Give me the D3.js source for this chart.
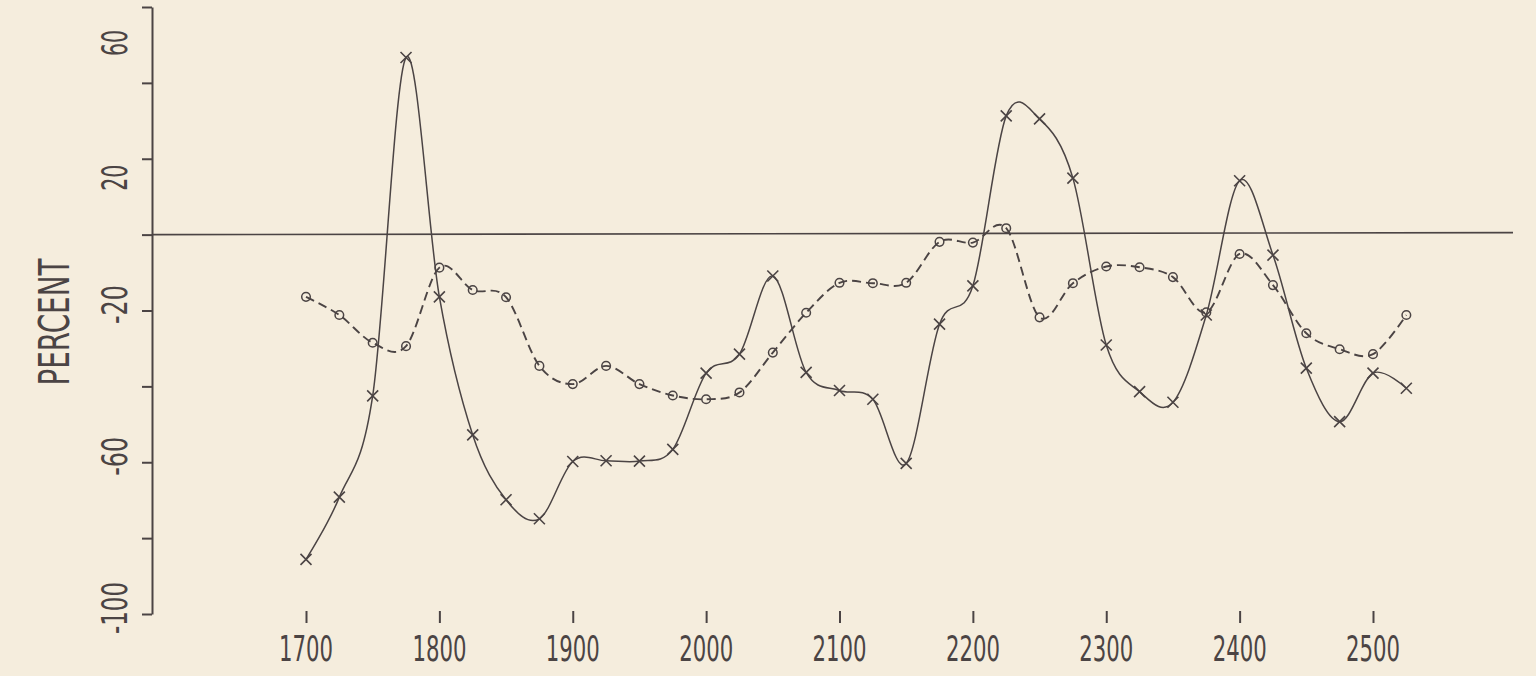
<!DOCTYPE html>
<html>
<head>
<meta charset="utf-8">
<script src="https://cdn.jsdelivr.net/npm/d3@7"></script>
<style>
html,body{margin:0;padding:0;background:#f5eddd;}
svg{display:block;}
</style>
</head>
<body>
<svg id="chart" width="1536" height="676"></svg>
<script>
// ---------- data ----------
const years = [1700,1725,1750,1775,1800,1825,1850,1875,1900,1925,1950,1975,
               2000,2025,2050,2075,2100,2125,2150,2175,2200,2225,2250,2275,
               2300,2325,2350,2375,2400,2425,2450,2475,2500,2525];
const seriesCross = [-85.6,-69.2,-42.5,46.7,-16.4,-52.8,-69.9,-74.9,-59.8,-59.6,-59.7,-56.6,
                     -36.5,-31.5,-10.9,-36.3,-41.1,-43.4,-60.3,-23.6,-13.5,31.3,30.5,14.9,
                     -29.1,-41.4,-44.2,-21.2,14.2,-5.4,-35.2,-49.3,-36.5,-40.5];
const seriesCircle = [-16.4,-21.2,-28.5,-29.4,-8.7,-14.6,-16.5,-34.6,-39.4,-34.6,-39.4,-42.4,
                      -43.4,-41.6,-31.1,-20.6,-12.7,-12.8,-12.7,-1.9,-2.1,1.7,-21.8,-12.8,
                      -8.4,-8.6,-11.2,-20.5,-5.1,-13.3,-26.0,-30.2,-31.5,-21.2];
const xTickValues = [1700,1800,1900,2000,2100,2200,2300,2400,2500];
const yTickMarks = [-100,-80,-60,-40,-20,0,20,40,60];
const yTickLabels = [-100,-60,-20,20,60];
const yTitle = "PERCENT";

// ---------- setup ----------
const ink = "#4b4444";
const svg = d3.select("#chart");
svg.append("rect").attr("width",1536).attr("height",676).attr("fill","#f5eddd");

const x = d3.scaleLinear().domain([1700,2500]).range([306,1373]);
const y = d3.scaleLinear().domain([-100,60]).range([614,7]);
const axisX = 152;
const font = "'Liberation Sans Narrow','DejaVu Sans Condensed',Arial,sans-serif";

// y axis
const gy = svg.append("g").attr("transform",`translate(${axisX},0)`)
  .call(d3.axisLeft(y).tickValues(yTickMarks).tickSize(10).tickSizeOuter(0).tickFormat(""));
gy.select(".domain").attr("stroke",ink).attr("stroke-width",2);
gy.selectAll(".tick line").attr("stroke",ink).attr("stroke-width",2);

// y tick labels (rotated)
svg.append("g").selectAll("text").data(yTickLabels).join("text")
  .attr("transform",d=>`translate(114,${y(d) + (d>0 ? (d>40?36:19) : -6)}) rotate(-90)`)
  .attr("text-anchor","middle")
  .attr("dy","0.36em")
  .attr("font-family",font)
  .attr("font-size",36)
  .attr("fill",ink)
  .attr("textLength",d=>String(d).length*13)
  .attr("lengthAdjust","spacingAndGlyphs")
  .text(d=>d);

// y title
svg.append("text")
  .attr("transform",`translate(54,322) rotate(-90)`)
  .attr("text-anchor","middle")
  .attr("dy","0.36em")
  .attr("font-family",font)
  .attr("font-size",42)
  .attr("fill",ink)
  .attr("textLength",127)
  .attr("lengthAdjust","spacingAndGlyphs")
  .text(yTitle);

// zero line
svg.append("line")
  .attr("x1",axisX).attr("x2",1513)
  .attr("y1",y(0)).attr("y2",y(0) - 2)
  .attr("stroke",ink).attr("stroke-width",1.6);

// x axis ticks and labels
const gx = svg.append("g").attr("transform","translate(0,611)")
  .call(d3.axisBottom(x).tickValues(xTickValues).tickSize(12).tickSizeOuter(0).tickFormat(""));
gx.select(".domain").remove();
gx.selectAll(".tick line").attr("stroke",ink).attr("stroke-width",2);

svg.append("g").selectAll("text").data(xTickValues).join("text")
  .attr("x",d=>x(d)).attr("y",661)
  .attr("text-anchor","middle")
  .attr("font-family",font)
  .attr("font-size",36)
  .attr("fill",ink)
  .attr("textLength",54)
  .attr("lengthAdjust","spacingAndGlyphs")
  .text(d=>d);

// ---------- series ----------
const crossData = years.map((yr,i)=>[yr,seriesCross[i]]);
const circleData = years.map((yr,i)=>[yr,seriesCircle[i]]);

const line = d3.line().x(d=>x(d[0])).y(d=>y(d[1])).curve(d3.curveCatmullRom.alpha(0));

svg.append("path").datum(circleData)
  .attr("d",line).attr("fill","none")
  .attr("stroke",ink).attr("stroke-width",1.9)
  .attr("stroke-dasharray","9,5");

svg.append("path").datum(crossData)
  .attr("d",line).attr("fill","none")
  .attr("stroke",ink).attr("stroke-width",1.5);

// circle markers
svg.append("g").selectAll("circle").data(circleData).join("circle")
  .attr("cx",d=>x(d[0])).attr("cy",d=>y(d[1])).attr("r",4.3)
  .attr("fill","none").attr("stroke",ink).attr("stroke-width",1.5);

// cross markers
const s = 5.5;
svg.append("g").selectAll("path").data(crossData).join("path")
  .attr("d",d=>{const cx=x(d[0]), cy=y(d[1]);
    return `M${cx-s},${cy-s}L${cx+s},${cy+s}M${cx-s},${cy+s}L${cx+s},${cy-s}`;})
  .attr("fill","none").attr("stroke",ink).attr("stroke-width",1.6);
</script>
</body>
</html>
